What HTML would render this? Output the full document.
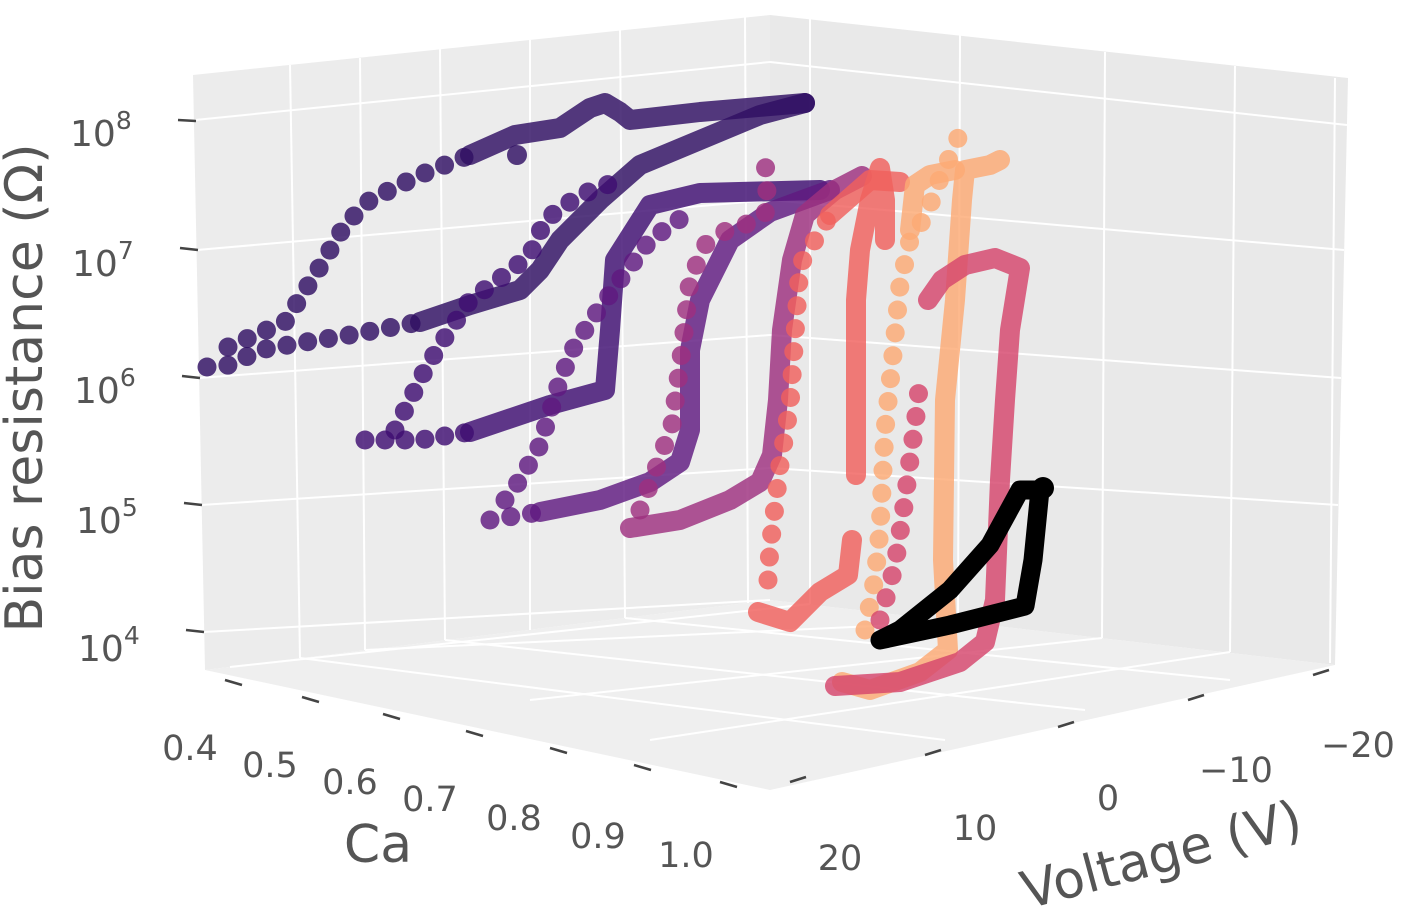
<!DOCTYPE html>
<html><head><meta charset="utf-8"><style>
html,body{margin:0;padding:0;background:#fff}
svg{display:block}
text{font-family:"DejaVu Sans","Liberation Sans",sans-serif;fill:#555}
</style></head><body>
<svg width="1402" height="924" viewBox="0 0 1402 924" xmlns="http://www.w3.org/2000/svg">
<polygon points="193,75 770,15 770,600 205,670" fill="#ececec"/>
<polygon points="770,15 1348,78 1335,665 770,600" fill="#e9e9e9"/>
<polygon points="205,670 770,600 1335,665 770,790" fill="#efefef"/>
<g stroke="#fff" stroke-width="2" fill="none">
<line x1="195" y1="120" x2="770" y2="62"/>
<line x1="197" y1="250" x2="770" y2="200"/>
<line x1="199" y1="378" x2="770" y2="335"/>
<line x1="201" y1="505" x2="770" y2="468"/>
<line x1="204" y1="632" x2="770" y2="600"/>
<line x1="290" y1="65" x2="300" y2="658"/>
<line x1="360" y1="58" x2="365" y2="650"/>
<line x1="440" y1="49" x2="445" y2="640"/>
<line x1="530" y1="40" x2="530" y2="630"/>
<line x1="620" y1="30" x2="625" y2="618"/>
<line x1="745" y1="17" x2="748" y2="603"/>
<line x1="770" y1="62" x2="1347" y2="125"/>
<line x1="770" y1="200" x2="1344" y2="250"/>
<line x1="770" y1="335" x2="1341" y2="378"/>
<line x1="770" y1="468" x2="1338" y2="505"/>
<line x1="810" y1="19" x2="810" y2="604"/>
<line x1="960" y1="35" x2="958" y2="622"/>
<line x1="1105" y1="52" x2="1102" y2="638"/>
<line x1="1235" y1="66" x2="1230" y2="652"/>
<line x1="1335" y1="78" x2="1330" y2="663"/>
<line x1="230" y1="667" x2="810" y2="604"/>
<line x1="300" y1="658" x2="945" y2="740"/>
<line x1="445" y1="640" x2="1085" y2="710"/>
<line x1="625" y1="618" x2="1230" y2="680"/>
<line x1="958" y1="622" x2="365" y2="650"/>
<line x1="1102" y1="638" x2="530" y2="700"/>
<line x1="1230" y1="652" x2="650" y2="740"/>
</g>
<g stroke="#444" stroke-width="2.5">
<line x1="178" y1="120" x2="196" y2="121"/>
<line x1="180" y1="248" x2="198" y2="250"/>
<line x1="182" y1="376" x2="200" y2="378"/>
<line x1="184" y1="503" x2="202" y2="505"/>
<line x1="186" y1="630" x2="204" y2="632"/>
<line x1="225" y1="680" x2="242" y2="685"/>
<line x1="302" y1="697" x2="319" y2="702"/>
<line x1="383" y1="714" x2="400" y2="719"/>
<line x1="466" y1="731" x2="483" y2="736"/>
<line x1="550" y1="748" x2="567" y2="753"/>
<line x1="634" y1="765" x2="651" y2="770"/>
<line x1="720" y1="782" x2="737" y2="787"/>
<line x1="790" y1="782" x2="806" y2="777"/>
<line x1="925" y1="755" x2="941" y2="750"/>
<line x1="1058" y1="727" x2="1074" y2="722"/>
<line x1="1188" y1="700" x2="1204" y2="695"/>
<line x1="1313" y1="675" x2="1329" y2="670"/>
</g>
<g fill="none" stroke-linecap="round" stroke-linejoin="round" stroke-opacity="0.82">
<g stroke="#2f0f63">
<polyline stroke-width="19" stroke-dasharray="0 21" points="207,367 230,365 260,350 300,343 350,335 420,322"/>
<polyline stroke-width="20" points="420,322 470,305 520,290 540,270 560,240 600,200 640,165 700,140 760,115 805,103"/>
<polyline stroke-width="19" stroke-dasharray="0 21" points="228,347 285,322 318,270 345,225 370,200 420,175 470,155"/>
<polyline stroke-width="20" points="470,155 515,135 560,128 590,108 605,103 620,112 630,120 700,112 805,103"/>
<circle cx="517" cy="155" r="10" fill="#2f0f63" stroke="none" fill-opacity="0.82"/>
</g>
<g stroke="#3e0e72">
<polyline stroke-width="19" stroke-dasharray="0 20" points="365,440 420,440 470,432"/>
<polyline stroke-width="20" points="470,432 550,405 605,390 610,330 615,260 650,205 700,193 820,190"/>
<polyline stroke-width="19" stroke-dasharray="0 21" points="395,430 425,370 440,345 470,300 505,275 530,255 545,220 580,195 620,180"/>
</g>
<g stroke="#5f1a80">
<polyline stroke-width="19" stroke-dasharray="0 21" points="490,520 540,512"/>
<polyline stroke-width="20" points="540,512 600,500 650,482 680,462 690,430 690,350 700,300 730,240 770,212 830,190"/>
<polyline stroke-width="19" stroke-dasharray="0 21" points="505,500 520,480 540,445 560,380 575,345 595,315 620,280 650,240 690,212"/>
</g>
<g stroke="#9e2f7f">
<polyline stroke-width="20" points="630,528 680,520 730,500 760,482 772,455 778,400 782,330 792,260 805,215 835,190 862,176"/>
<polyline stroke-width="19" stroke-dasharray="0 23" points="640,510 660,458 672,425 682,350 690,280 705,245 730,228 755,222 768,210 765,158"/>
</g>
<g stroke="#f0605d">
<polyline stroke-width="20" points="758,612 790,622 820,592 848,575 852,540"/>
<polyline stroke-width="19" stroke-dasharray="0 23" points="768,580 770,548 780,465 790,405 796,320 800,265 830,215"/>
<polyline stroke-width="20" points="830,215 870,180 900,182"/>
<polyline stroke-width="20" points="856,475 856,300 860,250 870,200 880,168 885,200 885,240"/>
</g>
<g stroke="#fdaa74">
<polyline stroke-width="20" points="842,682 870,690 920,672 948,650 943,560 945,400 955,300 962,200 965,170 990,165 1000,160"/>
<polyline stroke-width="19" stroke-dasharray="0 23" points="865,630 875,578 880,530 885,430 893,355 900,285 910,240 928,212 935,190 958,138"/>
<polyline stroke-width="20" points="910,230 915,185 930,175 955,170"/>
</g>
<g stroke="#d6456c">
<polyline stroke-width="20" points="835,686 900,682 960,662 985,642 995,600 1000,480 1005,400 1010,330 1020,268 995,258 965,265 942,280 928,300"/>
<polyline stroke-width="19" stroke-dasharray="0 23" points="880,620 895,565 905,500 910,460 915,425 920,380"/>
</g>
<polyline stroke="#000" stroke-opacity="1" stroke-width="19" points="880,640 950,625 1025,606 1033,560 1040,490 1020,490 990,545 950,590 900,630 880,640"/>
<circle cx="1043" cy="488" r="11" fill="#000"/>
</g>
<g font-size="36">
<text x="70" y="146">10<tspan font-size="25" dy="-17">8</tspan></text>
<text x="72" y="276">10<tspan font-size="25" dy="-17">7</tspan></text>
<text x="74" y="403">10<tspan font-size="25" dy="-17">6</tspan></text>
<text x="76" y="533">10<tspan font-size="25" dy="-17">5</tspan></text>
<text x="78" y="661">10<tspan font-size="25" dy="-17">4</tspan></text>
</g>
<g font-size="35" text-anchor="middle">
<text x="190" y="760">0.4</text>
<text x="270" y="777">0.5</text>
<text x="350" y="794">0.6</text>
<text x="430" y="811">0.7</text>
<text x="514" y="830">0.8</text>
<text x="598" y="848">0.9</text>
<text x="686" y="867">1.0</text>
<text x="840" y="870">20</text>
<text x="975" y="840">10</text>
<text x="1108" y="810">0</text>
<text x="1236" y="782">−10</text>
<text x="1358" y="757">−20</text>
</g>
<text x="378" y="862" font-size="52" text-anchor="middle">Ca</text>
<text transform="translate(1166,872) rotate(-15)" font-size="52" text-anchor="middle">Voltage (V)</text>
<text transform="translate(42,388) rotate(-90)" font-size="52" text-anchor="middle">Bias resistance (Ω)</text>
</svg>
</body></html>
